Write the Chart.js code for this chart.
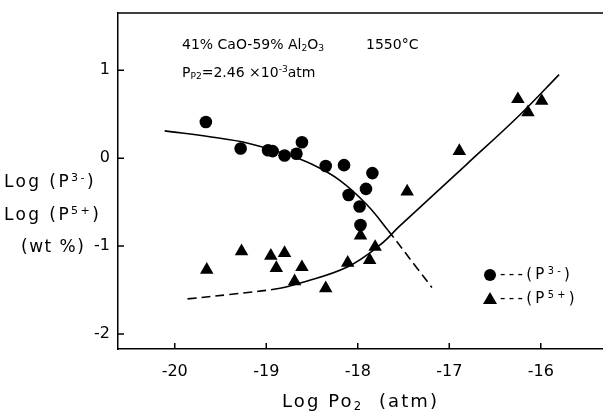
<!DOCTYPE html>
<html><head><meta charset="utf-8">
<script src="https://cdn.jsdelivr.net/npm/chart.js@4.4.0/dist/chart.umd.min.js"></script>
<style>
html,body{margin:0;padding:0;background:#fff;}
#wrap{position:relative;width:603px;height:416px;font-family:"DejaVu Sans",sans-serif;color:#000;overflow:hidden;}
canvas{position:absolute;left:0;top:0;}
.t{position:absolute;white-space:nowrap;line-height:1;}
sub{font-size:65%;vertical-align:-0.25em;line-height:0;}
sup{font-size:65%;vertical-align:0.55em;line-height:0;}
.dot{position:absolute;width:12px;height:12px;border-radius:50%;background:#000;}
.tri{position:absolute;width:0;height:0;border-left:7px solid transparent;border-right:7px solid transparent;border-bottom:12px solid #000;}
</style></head><body>
<div id="wrap">
<canvas id="c" width="603" height="416"></canvas>
<div class="t" style="left:182px;top:37px;font-size:14px">41% CaO-59% Al<sub>2</sub>O<sub>3</sub></div>
<div class="t" style="left:366px;top:37px;font-size:14px">1550°C</div>
<div class="t" style="left:182px;top:65px;font-size:14px">P<sub>P2</sub>=2.46 ×10<sup>-3</sup>atm</div>
<div class="t" style="left:4px;top:173px;font-size:17px;letter-spacing:2.4px">Log (P<sup>3-</sup>)</div>
<div class="t" style="left:4px;top:206px;font-size:17px;letter-spacing:2.4px">Log (P<sup>5+</sup>)</div>
<div class="t" style="left:21px;top:238px;font-size:17px;letter-spacing:1.5px">(wt %)</div>
<div class="t" style="left:282px;top:392px;font-size:18px;letter-spacing:2.1px">Log Po<sub>2</sub> &nbsp;(atm)</div>
<div class="dot" style="left:484px;top:269px"></div>
<div class="t" style="left:500px;top:267px;font-size:15px;letter-spacing:3.3px">---(P<sup>3-</sup>)</div>
<div class="tri" style="left:483px;top:292px"></div>
<div class="t" style="left:500px;top:291px;font-size:15px;letter-spacing:3.3px">---(P<sup>5+</sup>)</div>
</div>
<script>
// P3- measured points (circles)
const p3X = [-19.66,-19.28,-18.98,-18.93,-18.80,-18.67,-18.61,-18.35,-18.15,-17.84,-17.91,-18.10,-17.98,-17.97];
const p3Y = [0.41,0.11,0.09,0.08,0.03,0.05,0.18,-0.09,-0.08,-0.17,-0.35,-0.42,-0.55,-0.76];
// P5+ measured points (triangles)
const p5X = [-19.65,-19.27,-18.95,-18.80,-18.89,-18.61,-18.69,-18.35,-18.11,-17.87,-17.81,-17.97,-17.46,-16.89,-16.25,-16.14,-15.99];
const p5Y = [-1.27,-1.06,-1.11,-1.08,-1.25,-1.24,-1.40,-1.48,-1.19,-1.16,-1.01,-0.88,-0.38,0.08,0.67,0.52,0.65];
// fitted curves
const p3CurveX = [-20.11,-19.60,-19.20,-18.80,-18.50,-18.20,-17.90,-17.67,-17.36,-17.19];
const p3CurveY = [0.31,0.24,0.17,0.05,-0.07,-0.25,-0.53,-0.82,-1.24,-1.47];
const p5CurveX = [-19.86,-19.40,-18.85,-18.63,-18.12,-17.76,-17.54,-16.81,-16.23,-15.80];
const p5CurveY = [-1.60,-1.55,-1.48,-1.42,-1.24,-0.99,-0.77,-0.07,0.49,0.95];
const xTicks = [-20,-19,-18,-17,-16];
const yTicks = [-2,-1,0,1];

const pts = (xs, ys) => xs.map((x, i) => ({x, y: ys[i]}));
const FONT = '"DejaVu Sans", sans-serif';

const frame = {
  id: 'frame',
  afterDraw(chart) {
    const {ctx, chartArea: a, scales: {x, y}} = chart;
    ctx.save();
    ctx.strokeStyle = '#000';
    ctx.lineWidth = 1.5;
    ctx.beginPath();
    ctx.moveTo(a.left, a.top); ctx.lineTo(a.right, a.top);
    xTicks.forEach(v => { const p = x.getPixelForValue(v); ctx.moveTo(p, a.bottom); ctx.lineTo(p, a.bottom - 6); });
    yTicks.forEach(v => { const p = y.getPixelForValue(v); ctx.moveTo(a.left, p); ctx.lineTo(a.left + 6, p); });
    ctx.stroke();
    ctx.restore();
  }
};

const noPad = s => { s.paddingTop = 0; s.paddingBottom = 0; s.paddingLeft = 0; s.paddingRight = 0; };

new Chart(document.getElementById('c'), {
  type: 'scatter',
  data: {
    datasets: [
      {label: 'P3- fit', type: 'line', data: pts(p3CurveX, p3CurveY), borderColor: '#000', borderWidth: 1.6,
       pointRadius: 0, tension: 0.4, fill: false, order: 3,
       segment: {borderDash: c => c.p0.parsed.x >= -17.68 ? [9, 5] : undefined}},
      {label: 'P5+ fit', type: 'line', data: pts(p5CurveX, p5CurveY), borderColor: '#000', borderWidth: 1.6,
       pointRadius: 0, tension: 0.4, fill: false, order: 4,
       segment: {borderDash: c => c.p1.parsed.x <= -18.85 ? [9, 5] : undefined}},
      {label: '(P3-)', data: pts(p3X, p3Y), pointStyle: 'circle', pointRadius: 6.3,
       backgroundColor: '#000', borderColor: '#000', borderWidth: 0, order: 1},
      {label: '(P5+)', data: pts(p5X, p5Y), pointStyle: 'triangle', pointRadius: 7.8,
       backgroundColor: '#000', borderColor: '#000', borderWidth: 0, order: 2}
    ]
  },
  options: {
    responsive: false,
    animation: false,
    layout: {autoPadding: false, padding: {top: 13, left: 0, right: 0, bottom: 0}},
    plugins: {legend: {display: false}, tooltip: {enabled: false}},
    scales: {
      x: {
        type: 'linear', min: -20.62, max: -15.32,
        afterBuildTicks: s => { s.ticks = xTicks.map(v => ({value: v})); },
        afterFit: s => { s.height = 67; noPad(s); },
        grid: {display: false, drawTicks: false},
        border: {display: true, color: '#000', width: 1.5},
        ticks: {color: '#000', padding: 13, font: {family: FONT, size: 16}, maxRotation: 0,
                callback: v => String(v)}
      },
      y: {
        type: 'linear', min: -2.17, max: 1.65,
        afterBuildTicks: s => { s.ticks = yTicks.map(v => ({value: v})); },
        afterFit: s => { s.width = 118; noPad(s); },
        grid: {display: false, drawTicks: false},
        border: {display: true, color: '#000', width: 1.5},
        ticks: {color: '#000', padding: 8, font: {family: FONT, size: 16},
                callback: v => String(v)}
      }
    }
  },
  plugins: [frame]
});
</script>
</body></html>
